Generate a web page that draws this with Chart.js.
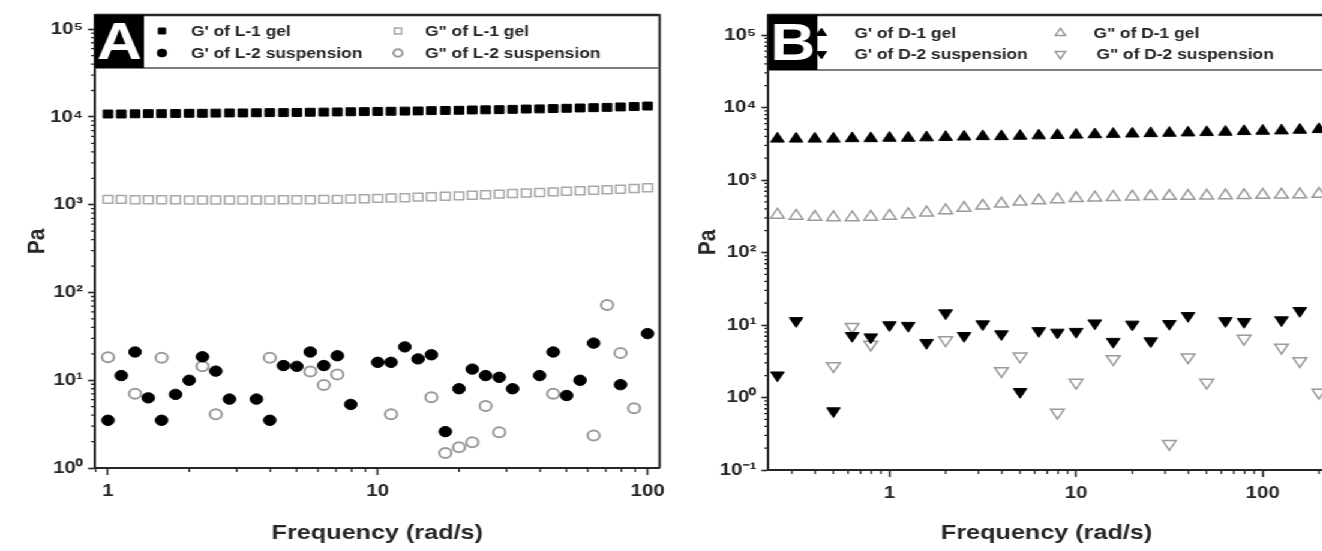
<!DOCTYPE html>
<html><head><meta charset="utf-8">
<script src="https://cdn.jsdelivr.net/npm/chart.js@4.4.1/dist/chart.umd.min.js"></script>
<style>
html,body{margin:0;padding:0;background:#fff;overflow:hidden;width:1322px;height:551px;}
#wrap{position:absolute;left:0;top:0;height:551px;transform-origin:0 0;}
#wrap canvas{position:absolute;top:0;}
</style></head><body>
<div id="wrap"><canvas id="cA"></canvas><canvas id="cB"></canvas></div>
<script>
// ---------------- DATA ----------------
// Panel A: frequency (rad/s)
const freqA = [1, 1.12, 1.26, 1.41, 1.58, 1.78, 2.0, 2.24, 2.51, 2.82, 3.16, 3.55, 3.98, 4.47, 5.01, 5.62, 6.31, 7.08, 7.94, 8.91,
  10, 11.2, 12.6, 14.1, 15.8, 17.8, 20.0, 22.4, 25.1, 28.2, 31.6, 35.5, 39.8, 44.7, 50.1, 56.2, 63.1, 70.8, 79.4, 89.1, 100];
const gPrimeL1 = [10800,10800,10850,10900,10900,10950,11000,11000,11050,11100,11100,11150,11200,11200,11250,11300,11350,11400,11450,11500,
  11550,11600,11650,11700,11800,11850,11900,12000,12050,12100,12200,12300,12350,12450,12550,12650,12750,12850,13000,13150,13300];
const gDoubleL1 = [1150,1150,1140,1140,1140,1140,1130,1130,1130,1130,1130,1130,1130,1140,1140,1140,1150,1150,1160,1170,
  1180,1190,1200,1220,1230,1250,1260,1280,1300,1320,1340,1360,1380,1400,1420,1440,1460,1480,1500,1530,1560];
const gPrimeL2 = [3.5,11.3,21,6.3,3.5,6.9,10,18.5,12.7,6.1,null,6.1,3.5,14.7,14.4,21,14.7,19,5.3,null,
  16,16,24,17.5,19.5,2.6,8,13.4,11.3,10.8,8,null,11.3,21,6.7,10,26.5,null,8.9,null,34];
const gDoubleL2 = [18.3,null,7.0,null,18,null,null,14.4,4.1,null,null,null,18,null,null,12.6,8.8,11.6,null,null,
  null,4.1,null,null,6.4,1.48,1.72,1.96,5.1,2.55,null,null,null,7.0,null,null,2.34,72,20.4,4.8,null];

// Panel B: frequency (rad/s)
const freqB = [0.251, 0.316, 0.398, 0.501, 0.631, 0.794, 1, 1.26, 1.58, 2.0, 2.51, 3.16, 3.98, 5.01, 6.31, 7.94,
  10, 12.6, 15.8, 20.0, 25.1, 31.6, 39.8, 50.1, 63.1, 79.4, 100, 126, 158, 200];
const gPrimeD1 = [3700,3700,3700,3700,3750,3750,3800,3800,3850,3900,3950,4000,4000,4050,4100,
  4150,4200,4250,4300,4350,4400,4450,4500,4550,4600,4700,4750,4800,4900,5000];
const gDoubleD1 = [330,320,310,305,305,310,320,335,355,380,410,440,470,500,520,
  540,560,570,580,590,595,600,600,605,610,615,620,625,630,640];
const gPrimeD2 = [2.03,11.4,null,0.65,7.1,6.8,10,9.8,5.7,14.6,7.1,10.3,7.5,1.2,8.3,
  7.9,8.1,10.6,5.9,10.2,6.0,10.4,13.4,null,11.4,11.1,null,11.7,15.7,null];
const gDoubleD2 = [null,null,null,2.73,9.5,5.4,null,null,null,6.2,null,null,2.33,3.7,null,
  0.62,1.61,null,3.4,null,null,0.23,3.6,1.61,null,6.5,null,4.9,3.2,1.17];

// Tick values / labels
const xTicksA = [1, 10, 100];
const xTickLabelsA = ['1', '10', '100'];
const yTicksA = [1, 10, 100, 1000, 10000, 100000];
const yTickLabelsA = ['10⁰', '10¹', '10²', '10³', '10⁴', '10⁵'];
const xTicksB = [1, 10, 100];
const xTickLabelsB = ['1', '10', '100'];
const yTicksB = [0.1, 1, 10, 100, 1000, 10000, 100000];
const yTickLabelsB = ['10⁻¹', '10⁰', '10¹', '10²', '10³', '10⁴', '10⁵'];

const legendA = ["G' of L-1 gel", 'G" of L-1 gel', "G' of L-2 suspension", 'G" of L-2 suspension'];
const legendB = ["G' of D-1 gel", 'G" of D-1 gel', "G' of D-2 suspension", 'G" of D-2 suspension'];
const xTitle = 'Frequency (rad/s)';
const yTitle = 'Pa';

// ---------------- RENDER ----------------
const SX = 1.2;               // horizontal stretch of the original figure
const FONT = "'Liberation Sans', Arial, sans-serif";
const DARK = '#262626';
const GREY = '#9a9a9a';
const TOTALW = 1342;
const wrap = document.getElementById('wrap');
wrap.style.width = (TOTALW / SX) + 'px';
wrap.style.transform = 'scaleX(' + SX + ')';

function pts(xs, ys) {
  const out = [];
  xs.forEach((x, i) => { if (ys[i] != null) out.push({x: x, y: ys[i]}); });
  return out;
}

function drawMarker(ctx, st, x, y, r) {
  const H = Chart.helpers;
  ctx.save();
  ctx.fillStyle = st.bg; ctx.strokeStyle = st.border; ctx.lineWidth = st.bw;
  if (H && H.drawPoint) {
    H.drawPoint(ctx, {pointStyle: st.style, radius: r, rotation: st.rot || 0, borderWidth: st.bw}, x, y);
  }
  ctx.restore();
}

function panel(p) {
  const cv = document.getElementById(p.id);
  const W = (p.cRight - p.cLeft) / SX;
  const nx = v => (v - p.cLeft) / SX;   // real x -> native canvas x
  cv.width = Math.round(W); cv.height = 551;
  cv.style.width = Math.round(W) + 'px'; cv.style.height = '551px';
  cv.style.left = (p.cLeft / SX) + 'px';
  const area = {l: nx(p.l), r: nx(p.r), t: p.t, b: p.b};
  const titleFont = {family: FONT, size: 21, weight: 'bold'};
  const tickFont = {family: FONT, size: 17, weight: 'bold'};

  const datasets = p.series.map(s => ({
    label: s.label, data: pts(p.freq, s.values), showLine: false,
    pointStyle: s.style, pointRadius: s.r, pointHoverRadius: s.r, pointRotation: s.rot || 0,
    pointBackgroundColor: s.bg, pointBorderColor: s.border, pointBorderWidth: s.bw,
    backgroundColor: s.bg, borderColor: s.border
  }));

  const framePlugin = {
    id: 'frame',
    afterDraw(chart) {
      const ctx = chart.ctx;
      const ca = chart.chartArea;
      const xs = chart.scales.x, ys = chart.scales.y;
      ctx.save();
      // minor ticks
      ctx.strokeStyle = DARK; ctx.lineWidth = 1.3;
      const minorX = [], minorY = [];
      for (let d = Math.floor(Math.log10(xs.min)); d <= Math.ceil(Math.log10(xs.max)); d++)
        for (let m = 2; m <= 9; m++) minorX.push(m * Math.pow(10, d));
      for (let d = Math.floor(Math.log10(ys.min)); d <= Math.ceil(Math.log10(ys.max)); d++)
        for (let m = 2; m <= 9; m++) minorY.push(m * Math.pow(10, d));
      ctx.beginPath();
      minorX.forEach(v => {
        if (v <= xs.min || v >= xs.max) return;
        const px = xs.getPixelForValue(v);
        ctx.moveTo(px, ca.bottom); ctx.lineTo(px, ca.bottom + 4);
      });
      minorY.forEach(v => {
        if (v <= ys.min || v >= ys.max) return;
        const py = ys.getPixelForValue(v);
        ctx.moveTo(ca.left, py); ctx.lineTo(ca.left - 4 / SX, py);
      });
      ctx.stroke();
      // top and right frame
      ctx.strokeStyle = DARK; ctx.lineWidth = 2;
      ctx.beginPath();
      ctx.moveTo(ca.left, ca.top); ctx.lineTo(ca.right, ca.top); ctx.lineTo(ca.right, ca.bottom);
      ctx.stroke();
      // legend box
      const lb = p.legendBottom;
      ctx.strokeStyle = '#555'; ctx.lineWidth = 1.5;
      ctx.beginPath(); ctx.moveTo(ca.left, lb); ctx.lineTo(ca.right, lb); ctx.stroke();
      ctx.strokeStyle = DARK; ctx.lineWidth = 2.5;
      ctx.beginPath(); ctx.moveTo(ca.left, ca.top); ctx.lineTo(ca.right, ca.top); ctx.stroke();
      // letter box
      const bw = p.letterW / SX;
      ctx.fillStyle = '#000';
      ctx.fillRect(ca.left, ca.top, bw, lb - ca.top);
      ctx.fillStyle = '#fff';
      ctx.font = 'bold 52px ' + FONT;
      ctx.textAlign = 'center'; ctx.textBaseline = 'middle';
      ctx.fillText(p.letter, ca.left + bw / 2, (ca.top + lb) / 2 + 3);
      // entries
      ctx.font = 'bold 14.5px ' + FONT;
      ctx.textAlign = 'left'; ctx.textBaseline = 'middle';
      p.entries.forEach((e, i) => {
        const s = p.series[i];
        drawMarker(ctx, s, nx(e.mx), e.y, s.r * 0.75);
        ctx.fillStyle = DARK;
        ctx.fillText(p.labels[i], nx(e.tx), e.y + 1);
      });
      ctx.restore();
    }
  };

  return new Chart(cv, {
    type: 'scatter',
    data: {datasets},
    options: {
      responsive: false, animation: false, devicePixelRatio: 1,
      layout: {padding: {left: 0, top: area.t, right: W - area.r, bottom: 0}},
      plugins: {legend: {display: false}, tooltip: {enabled: false}},
      elements: {point: {hitRadius: 0}},
      scales: {
        x: {
          type: 'logarithmic', position: 'bottom', min: p.xMin, max: p.xMax,
          afterFit: s => { s.height = 551 - area.b; },
          afterBuildTicks: s => { s.ticks = p.xTicks.map(v => ({value: v})); },
          ticks: {autoSkip: false, maxRotation: 0, minRotation: 0, color: DARK, font: tickFont, padding: 6,
                  callback: (v, i) => p.xTickLabels[i]},
          grid: {display: true, drawOnChartArea: false, drawTicks: true, tickLength: 7, tickColor: DARK, tickWidth: 1.6},
          border: {display: true, color: DARK, width: 2},
          title: {display: true, text: xTitle, color: DARK, font: titleFont, padding: {top: 0, bottom: 5.4}}
        },
        y: {
          type: 'logarithmic', position: 'left', min: p.yMin, max: p.yMax,
          afterFit: s => { s.width = area.l; },
          afterBuildTicks: s => { s.ticks = p.yTicks.map(v => ({value: v})); },
          ticks: {autoSkip: false, color: DARK, font: tickFont, padding: 5 / SX,
                  callback: (v, i) => p.yTickLabels[i]},
          grid: {display: true, drawOnChartArea: false, drawTicks: true, tickLength: 7 / SX, tickColor: DARK, tickWidth: 1.6},
          border: {display: true, color: DARK, width: 2},
          title: {display: true, text: yTitle, color: DARK, font: titleFont,
                  padding: {top: (p.paX - p.cLeft) / SX - 12.6, bottom: 0}}
        }
      }
    },
    plugins: [framePlugin]
  });
}

panel({
  id: 'cA', cLeft: 0, cRight: 700, l: 95, r: 660, t: 15, b: 468,
  xMin: 0.895, xMax: 110.8, yMin: 1, yMax: 145000,
  xTicks: xTicksA, xTickLabels: xTickLabelsA, yTicks: yTicksA, yTickLabels: yTickLabelsA,
  freq: freqA, paX: 38, legendBottom: 68, letterW: 49, letter: 'A', labels: legendA,
  entries: [{mx: 162, tx: 191, y: 31}, {mx: 398, tx: 425, y: 31}, {mx: 162, tx: 191, y: 53}, {mx: 398, tx: 425, y: 53}],
  series: [
    {label: legendA[0], values: gPrimeL1, style: 'rect', r: 5.6, bg: '#000', border: '#000', bw: 1},
    {label: legendA[1], values: gDoubleL1, style: 'rect', r: 5.6, bg: 'rgba(0,0,0,0)', border: '#a8a8a8', bw: 1.5},
    {label: legendA[2], values: gPrimeL2, style: 'circle', r: 5.2, bg: '#000', border: '#000', bw: 1},
    {label: legendA[3], values: gDoubleL2, style: 'circle', r: 5.0, bg: 'rgba(0,0,0,0)', border: GREY, bw: 2}
  ]
});

panel({
  id: 'cB', cLeft: 662, cRight: 1342, l: 768, r: 1324, t: 15, b: 470,
  xMin: 0.2245, xMax: 215, yMin: 0.1, yMax: 189000,
  xTicks: xTicksB, xTickLabels: xTickLabelsB, yTicks: yTicksB, yTickLabels: yTickLabelsB,
  freq: freqB, paX: 708, legendBottom: 70, letterW: 49, letter: 'B', labels: legendB,
  entries: [{mx: 821, tx: 854, y: 33}, {mx: 1060, tx: 1093, y: 33}, {mx: 821, tx: 854, y: 54}, {mx: 1060, tx: 1096, y: 54}],
  series: [
    {label: legendB[0], values: gPrimeD1, style: 'triangle', r: 6.5, bg: '#000', border: '#000', bw: 1},
    {label: legendB[1], values: gDoubleD1, style: 'triangle', r: 6.5, bg: 'rgba(0,0,0,0)', border: GREY, bw: 1.5},
    {label: legendB[2], values: gPrimeD2, style: 'triangle', r: 6.5, rot: 180, bg: '#000', border: '#000', bw: 1},
    {label: legendB[3], values: gDoubleD2, style: 'triangle', r: 6.5, rot: 180, bg: 'rgba(0,0,0,0)', border: GREY, bw: 1.5}
  ]
});
</script>
</body></html>
